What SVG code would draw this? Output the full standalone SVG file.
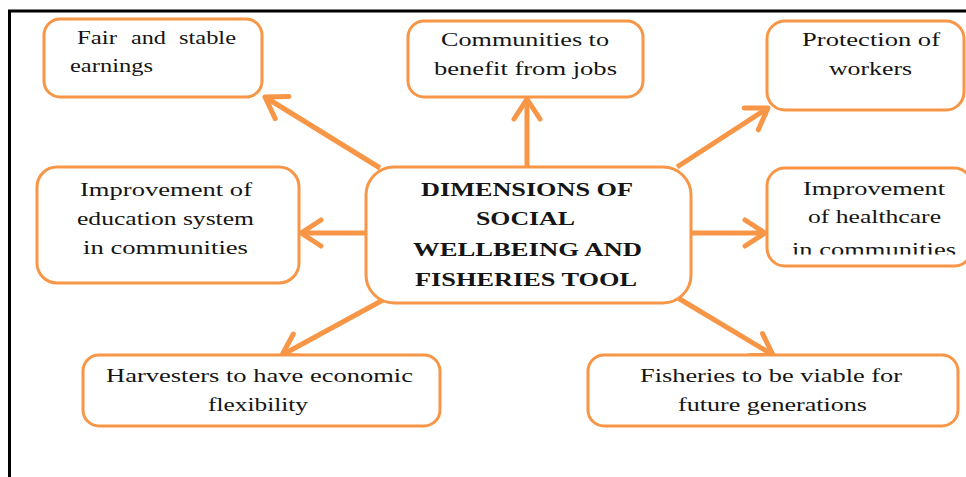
<svg xmlns="http://www.w3.org/2000/svg" width="966" height="477" viewBox="0 0 966 477">
<style>
.box{fill:#fff;stroke:#F79646;stroke-width:3}
.t{font-family:"Liberation Serif","DejaVu Serif",serif;font-size:18px;fill:#151515}
.b{font-weight:bold}
.ar{stroke:#F79646;stroke-width:5;fill:none;marker-end:url(#ah)}
</style>
<defs>
<marker id="ah" markerUnits="userSpaceOnUse" viewBox="-26 -18 30 36" refX="0" refY="0" markerWidth="30" markerHeight="36" orient="auto" overflow="visible">
<path d="M-20,-13 L0,0 L-20,13" fill="none" stroke="#F79646" stroke-width="5" stroke-linecap="round" stroke-linejoin="round"/>
</marker>
<clipPath id="clipHC"><rect x="760" y="160" width="206" height="94.5"/></clipPath>
</defs>
<rect width="966" height="477" fill="#fff"/>
<g id="frame" stroke="#000" stroke-width="3" fill="none">
<line x1="8" y1="11" x2="966" y2="11"/>
<line x1="9.5" y1="10" x2="9.5" y2="477"/>
</g>
<g id="connectors">
<line class="ar" x1="380" y1="168" x2="265" y2="97"/>
<line class="ar" x1="527" y1="166" x2="527" y2="99"/>
<line class="ar" x1="677" y1="167" x2="768" y2="108"/>
<line class="ar" x1="366" y1="233" x2="301" y2="233"/>
<line class="ar" x1="691" y1="233" x2="765" y2="233"/>
<line class="ar" x1="383" y1="300" x2="282" y2="355"/>
<line class="ar" x1="678" y1="298" x2="773" y2="355"/>
</g>
<g id="n-fair">
<rect class="box" x="44" y="19" width="218" height="78" rx="16"/>
<text class="t" y="44"><tspan x="77" textLength="40" lengthAdjust="spacingAndGlyphs">Fair</tspan><tspan x="131" textLength="35" lengthAdjust="spacingAndGlyphs">and</tspan><tspan x="179" textLength="57" lengthAdjust="spacingAndGlyphs">stable</tspan></text>
<text class="t" x="70" y="72" textLength="83" lengthAdjust="spacingAndGlyphs">earnings</text>
</g>
<g id="n-communities">
<rect class="box" x="408" y="21" width="235" height="76" rx="16"/>
<text class="t" x="441" y="46" textLength="168" lengthAdjust="spacingAndGlyphs">Communities to</text>
<text class="t" x="434" y="75" textLength="183" lengthAdjust="spacingAndGlyphs">benefit from jobs</text>
</g>
<g id="n-protection">
<rect class="box" x="767" y="21" width="197" height="89" rx="18"/>
<text class="t" x="802" y="46" textLength="138" lengthAdjust="spacingAndGlyphs">Protection of</text>
<text class="t" x="829" y="75" textLength="83" lengthAdjust="spacingAndGlyphs">workers</text>
</g>
<g id="n-education">
<rect class="box" x="37" y="167" width="262" height="116" rx="20"/>
<text class="t" x="80" y="196" textLength="172" lengthAdjust="spacingAndGlyphs">Improvement of</text>
<text class="t" x="77" y="225" textLength="177" lengthAdjust="spacingAndGlyphs">education system</text>
<text class="t" x="83" y="254" textLength="165" lengthAdjust="spacingAndGlyphs">in communities</text>
</g>
<g id="n-center">
<rect class="box" x="366" y="167" width="325" height="136" rx="28"/>
<text class="t b" x="421" y="196" textLength="212" lengthAdjust="spacingAndGlyphs">DIMENSIONS OF</text>
<text class="t b" x="476" y="225" textLength="99" lengthAdjust="spacingAndGlyphs">SOCIAL</text>
<text class="t b" x="413" y="256" textLength="229" lengthAdjust="spacingAndGlyphs">WELLBEING AND</text>
<text class="t b" x="415" y="286" textLength="222" lengthAdjust="spacingAndGlyphs">FISHERIES TOOL</text>
</g>
<g id="n-healthcare">
<rect class="box" x="767" y="168" width="205" height="98" rx="18"/>
<text class="t" x="803" y="195" textLength="142" lengthAdjust="spacingAndGlyphs">Improvement</text>
<text class="t" x="808" y="223" textLength="133" lengthAdjust="spacingAndGlyphs">of healthcare</text>
<text class="t" x="792" y="256" textLength="164" lengthAdjust="spacingAndGlyphs" clip-path="url(#clipHC)">in communities</text>
</g>
<g id="n-harvesters">
<rect class="box" x="83" y="355" width="357" height="71" rx="16"/>
<text class="t" x="106" y="382" textLength="307" lengthAdjust="spacingAndGlyphs">Harvesters to have economic</text>
<text class="t" x="208" y="411" textLength="100" lengthAdjust="spacingAndGlyphs">flexibility</text>
</g>
<g id="n-fisheries">
<rect class="box" x="588" y="355" width="370" height="71" rx="16"/>
<text class="t" x="640" y="382" textLength="262" lengthAdjust="spacingAndGlyphs">Fisheries to be viable for</text>
<text class="t" x="678" y="411" textLength="189" lengthAdjust="spacingAndGlyphs">future generations</text>
</g>
</svg>
